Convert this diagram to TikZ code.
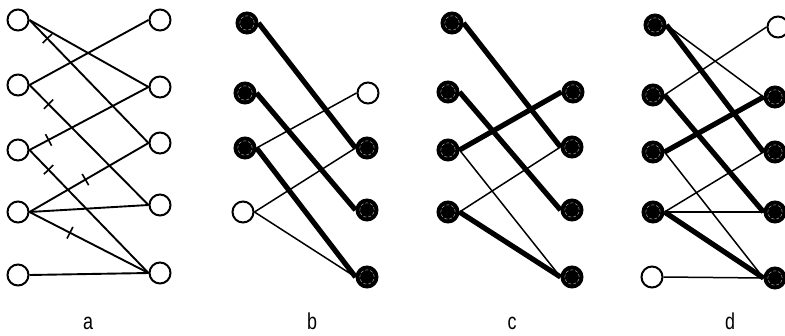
\documentclass[tikz,border=0pt]{standalone}
\usepackage{fontspec}
\setmainfont{Liberation Sans}
\newfontfamily\labfont[FakeStretch=0.78]{Liberation Sans}
\begin{document}
\begin{tikzpicture}[x=1pt,y=-1pt,
  vtx/.style={circle, draw=black, line width=2pt, minimum size=21pt, inner sep=0pt, fill=white},
  fvtx/.style={vtx, fill=black, path picture={\draw[black!35, densely dashed, line width=0.5pt] (path picture bounding box.center) circle (7.2pt);}},
  ln/.style={line width=1.9pt},
  lnb/.style={line width=1.5pt},
  thk/.style={line width=5.2pt},
  tickmark/.style={draw, sloped, inner sep=0pt, minimum width=0pt, minimum height=13pt, line width=1.6pt},
  lab/.style={font=\labfont\fontsize{23}{26}\selectfont, anchor=base, inner sep=0pt}
]
\useasboundingbox (0,0) rectangle (785,335);
% ---------- panel a ----------
\node[vtx] (al1) at (18,20) {};
\node[vtx] (al2) at (18,85) {};
\node[vtx] (al3) at (18,150) {};
\node[vtx] (al4) at (18,212) {};
\node[vtx] (al5) at (18,275) {};
\node[vtx] (ar1) at (160,20) {};
\node[vtx] (ar2) at (160,87) {};
\node[vtx] (ar3) at (160,143) {};
\node[vtx] (ar4) at (160,205) {};
\node[vtx] (ar5) at (160,273) {};
\draw[ln] (al1.east) -- (ar2.west);
\draw[ln] (al1.east) -- node[tickmark, pos=0.15]{} (ar3.west);
\draw[ln] (al2.east) -- (ar1.west);
\draw[ln] (al2.east) -- node[tickmark, pos=0.16]{} (ar4.west);
\draw[ln] (al3.east) -- node[tickmark, pos=0.16]{} (ar2.west);
\draw[ln] (al3.east) -- node[tickmark, pos=0.16]{} (ar5.west);
\draw[ln] (al4.east) -- node[tickmark, pos=0.47]{} (ar3.west);
\draw[ln] (al4.east) -- (ar4.west);
\draw[ln] (al4.east) -- node[tickmark, pos=0.34]{} (ar5.west);
\draw[ln] (al5.east) -- (ar5.west);
% ---------- panel b ----------
\node[fvtx] (bl1) at (247,23) {};
\node[fvtx] (bl2) at (245,93) {};
\node[fvtx] (bl3) at (245,148) {};
\node[vtx] (bl4) at (243,212) {};
\node[vtx] (br1) at (368,93) {};
\node[fvtx] (br2) at (367,148) {};
\node[fvtx] (br3) at (367,210) {};
\node[fvtx] (br4) at (367,277) {};
\draw[thk] (bl1.east) -- (br2.west);
\draw[thk] (bl2.east) -- (br3.west);
\draw[thk] (bl3.east) -- (br4.west);
\draw[lnb] (bl3.east) -- (br1.west);
\draw[lnb] (bl4.east) -- (br2.west);
\draw[lnb] (bl4.east) -- (br4.west);
% ---------- panel c ----------
\node[fvtx] (cl1) at (452,23) {};
\node[fvtx] (cl2) at (448,92) {};
\node[fvtx] (cl3) at (448,150) {};
\node[fvtx] (cl4) at (448,212) {};
\node[fvtx] (cr1) at (573,92) {};
\node[fvtx] (cr2) at (572,147) {};
\node[fvtx] (cr3) at (572,210) {};
\node[fvtx] (cr4) at (572,277) {};
\draw[thk] (cl1.east) -- (cr2.west);
\draw[thk] (cl2.east) -- (cr3.west);
\draw[thk] (cl3.east) -- (cr1.west);
\draw[lnb] (cl3.east) -- (cr4.west);
\draw[lnb] (cl4.east) -- (cr2.west);
\draw[thk] (cl4.east) -- (cr4.west);
% ---------- panel d ----------
\node[fvtx] (dl1) at (655,25) {};
\node[fvtx] (dl2) at (653,95) {};
\node[fvtx] (dl3) at (653,152) {};
\node[fvtx] (dl4) at (653,212) {};
\node[vtx] (dl5) at (652,277) {};
\node[vtx] (dr1) at (778,27) {};
\node[fvtx] (dr2) at (775,97) {};
\node[fvtx] (dr3) at (775,152) {};
\node[fvtx] (dr4) at (775,212) {};
\node[fvtx] (dr5) at (775,278) {};
\draw[lnb] (dl1.east) -- (dr2.west);
\draw[thk] (dl1.east) -- (dr3.west);
\draw[lnb] (dl2.east) -- (dr1.west);
\draw[thk] (dl2.east) -- (dr4.west);
\draw[thk] (dl3.east) -- (dr2.west);
\draw[lnb] (dl3.east) -- (dr5.west);
\draw[lnb] (dl4.east) -- (dr3.west);
\draw[lnb] (dl4.east) -- (dr4.west);
\draw[thk] (dl4.east) -- (dr5.west);
\draw[lnb] (dl5.east) -- (dr5.west);
% ---------- labels ----------
\node[lab] (la) at (88,329) {a};
\node[lab] (lb) at (312,329) {b};
\node[lab] (lc) at (512,329) {c};
\node[lab] (ld) at (730,329) {d};
\end{tikzpicture}
\end{document}
